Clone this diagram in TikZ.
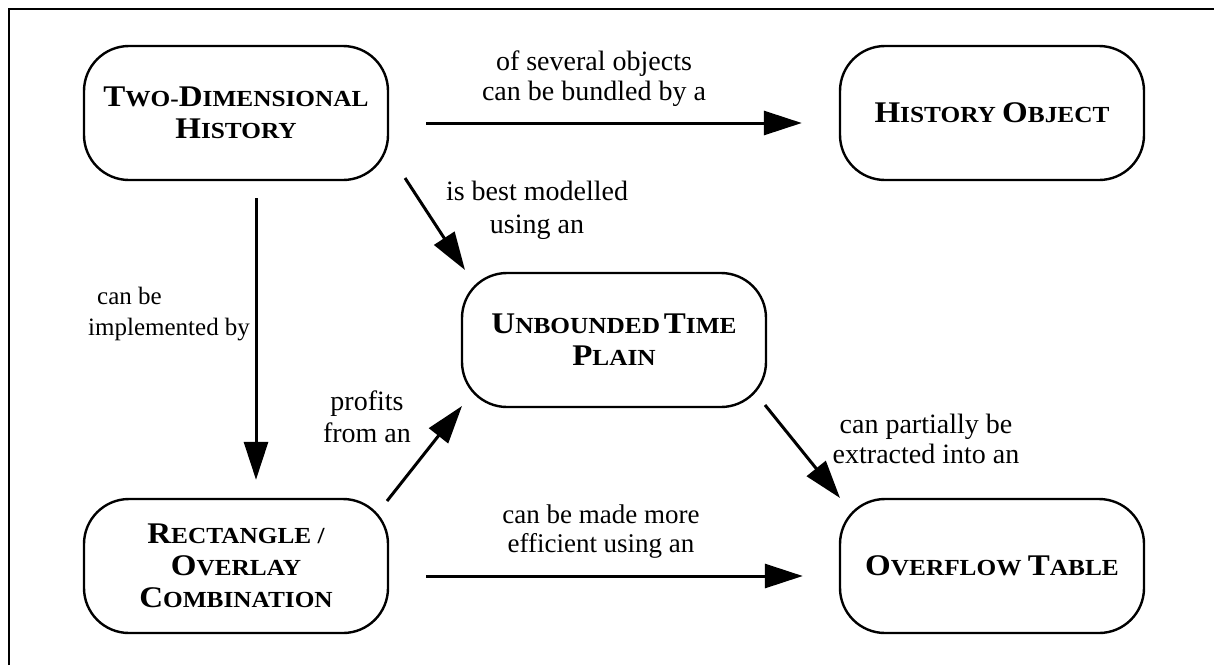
\documentclass[tikz,border=0pt]{standalone}
\usepackage{fontspec}
\setmainfont{Liberation Serif}
\newfontfamily\capfont[FakeStretch=1.1]{Liberation Serif}
\usetikzlibrary{arrows.meta}
% larger initial capital for the hand-made small caps
\newcommand\initcap[1]{{\fontsize{30}{32}\selectfont #1}}
\tikzset{
  concept/.style={draw, line width=2.4pt, rounded corners=45pt,
    minimum width=304pt, minimum height=134pt, align=center,
    inner sep=0pt, font=\capfont\bfseries\fontsize{23}{32}\selectfont},
  relation/.style={align=center, inner sep=0pt,
    font=\fontsize{28}{30}\selectfont},
  link/.style={line width=3pt, -{Triangle[length=38pt,width=24pt]}},
}
\begin{document}
\begin{tikzpicture}[x=1pt, y=-1pt]
\useasboundingbox (0,0) rectangle (1214,665);
% frame edges
\draw[line width=2pt] (9,665) -- (9,9) -- (1214,9);

% concepts
\node[concept] (tdh) at (236,113) {\initcap{T}WO-\initcap{D}IMENSIONAL\\\initcap{H}ISTORY};
\node[concept] (ho)  at (992,113) {\initcap{H}ISTORY \initcap{O}BJECT};
\node[concept] (utp) at (614,340) {\initcap{U}NBOUNDED\,\initcap{T}IME\\\initcap{P}LAIN};
\node[concept] (ro)  at (236,566) {\initcap{R}ECTANGLE /\\\initcap{O}VERLAY\\\initcap{C}OMBINATION};
\node[concept] (ot)  at (992,566) {\initcap{O}VERFLOW \initcap{T}ABLE};

% relations
\draw[link, shorten <=37pt, shorten >=37pt]
  ([yshift=-10pt]tdh.east) -- ([yshift=-10pt]ho.west);
\draw[link, shorten <=17pt, shorten >=18pt]
  ([xshift=20pt]tdh.south) -- ([xshift=20pt]ro.north);
\draw[link] ([shift={(169,65)}]tdh.center) -- ([shift={(-149,-70)}]utp.center);
\draw[link] ([shift={(151,-65)}]ro.center) -- ([shift={(-152,66)}]utp.center);
\draw[link] ([shift={(151,65)}]utp.center) -- ([shift={(-152,-68)}]ot.center);
\draw[link, shorten <=37pt, shorten >=36pt]
  ([yshift=-10pt]ro.east) -- ([yshift=-10pt]ot.west);

% relation labels
\node[relation] (l1) at (594,79)  {of several objects\\can be bundled by a};
\node[relation, font=\fontsize{28}{33}\selectfont] (l2) at (537,210) {is best modelled\\using an};
\node[relation, align=left, anchor=west, font=\fontsize{25}{31}\selectfont] (l3) at (88,314) {\hspace{9pt}can be\\implemented by};
\node[relation, font=\fontsize{28}{32}\selectfont] (l4) at (367,417) {profits\\from an};
\node[relation] (l5) at (926,439) {can partially be\\extracted into an};
\node[relation, font=\fontsize{27}{29}\selectfont] (l6) at (601,532) {can be made more\\efficient using an};
\end{tikzpicture}
\end{document}
